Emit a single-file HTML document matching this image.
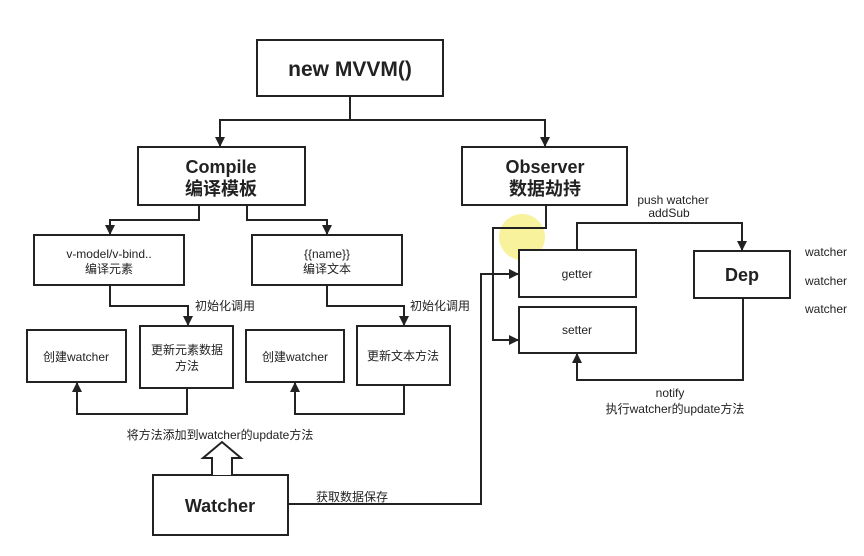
<!DOCTYPE html>
<html><head><meta charset="utf-8"><style>
body{margin:0;background:#fff;}
svg text{font-family:"Liberation Sans","Noto Sans CJK SC",sans-serif;fill:#222;}
</style></head><body>
<svg width="864" height="551" viewBox="0 0 864 551" xmlns="http://www.w3.org/2000/svg">
<defs><marker id="a" markerWidth="10" markerHeight="10" refX="9" refY="5" orient="auto" markerUnits="userSpaceOnUse"><path d="M0,0 L10,5 L0,10 z" fill="#222"/></marker></defs>
<circle cx="522" cy="237" r="23" fill="#f6f08a" opacity="0.85"/>
<g fill="#fff" stroke="#222" stroke-width="2">
<rect x="257" y="40" width="186" height="56"/>
<rect x="138" y="147" width="167" height="58"/>
<rect x="462" y="147" width="165" height="58"/>
<rect x="34" y="235" width="150" height="50"/>
<rect x="252" y="235" width="150" height="50"/>
<rect x="27" y="330" width="99" height="52"/>
<rect x="140" y="326" width="93" height="62"/>
<rect x="246" y="330" width="98" height="52"/>
<rect x="357" y="326" width="93" height="59"/>
<rect x="153" y="475" width="135" height="60"/>
<rect x="519" y="250" width="117" height="47"/>
<rect x="519" y="307" width="117" height="46"/>
<rect x="694" y="251" width="96" height="47"/>
</g>
<g fill="none" stroke="#222" stroke-width="2">
<path d="M350,96 V120 H220 V146" marker-end="url(#a)"/>
<path d="M350,120 H545 V146" marker-end="url(#a)"/>
<path d="M199,205 V220 H110 V234" marker-end="url(#a)"/>
<path d="M247,205 V220 H327 V234" marker-end="url(#a)"/>
<path d="M110,285 V306 H188 V325" marker-end="url(#a)"/>
<path d="M327,285 V306 H404 V325" marker-end="url(#a)"/>
<path d="M187,388 V414 H77 V383" marker-end="url(#a)"/>
<path d="M404,385 V414 H295 V383" marker-end="url(#a)"/>
<path d="M288,504 H481 V274 H518" marker-end="url(#a)"/>
<path d="M546,205 V228 H493 V340 H518" marker-end="url(#a)"/>
<path d="M577,250 V223 H742 V250" marker-end="url(#a)"/>
<path d="M743,298 V380 H577 V354" marker-end="url(#a)"/>
<path d="M212,475 V458 H203 L222,442 L241,458 H232 V475" fill="#fff"/>
</g>
<g text-anchor="middle">
<text x="350" y="76" font-size="21" font-weight="bold">new MVVM()</text>
<text x="221" y="173" font-size="18" font-weight="bold">Compile</text>
<text x="221" y="195" font-size="18" font-weight="bold">编译模板</text>
<text x="545" y="173" font-size="18" font-weight="bold">Observer</text>
<text x="545" y="195" font-size="18" font-weight="bold">数据劫持</text>
<text x="109" y="258" font-size="12">v-model/v-bind..</text>
<text x="109" y="273" font-size="12">编译元素</text>
<text x="327" y="258" font-size="12">{{name}}</text>
<text x="327" y="273" font-size="12">编译文本</text>
<text x="76" y="361" font-size="12">创建watcher</text>
<text x="187" y="354" font-size="12">更新元素数据</text>
<text x="187" y="370" font-size="12">方法</text>
<text x="295" y="361" font-size="12">创建watcher</text>
<text x="403" y="360" font-size="12">更新文本方法</text>
<text x="220" y="439" font-size="12">将方法添加到watcher的update方法</text>
<text x="220" y="512" font-size="18" font-weight="bold">Watcher</text>
<text x="577" y="278" font-size="12">getter</text>
<text x="577" y="334" font-size="12">setter</text>
<text x="742" y="281" font-size="18" font-weight="bold">Dep</text>
<text x="673" y="204" font-size="12">push watcher</text>
<text x="669" y="217" font-size="12">addSub</text>
<text x="670" y="397" font-size="12">notify</text>
<text x="675" y="413" font-size="12">执行watcher的update方法</text>
</g>
<g font-size="12">
<text x="195" y="310">初始化调用</text>
<text x="410" y="310">初始化调用</text>
<text x="316" y="501">获取数据保存</text>
<text x="805" y="256">watcher</text>
<text x="805" y="285">watcher</text>
<text x="805" y="313">watcher</text>
</g>
</svg>
</body></html>
